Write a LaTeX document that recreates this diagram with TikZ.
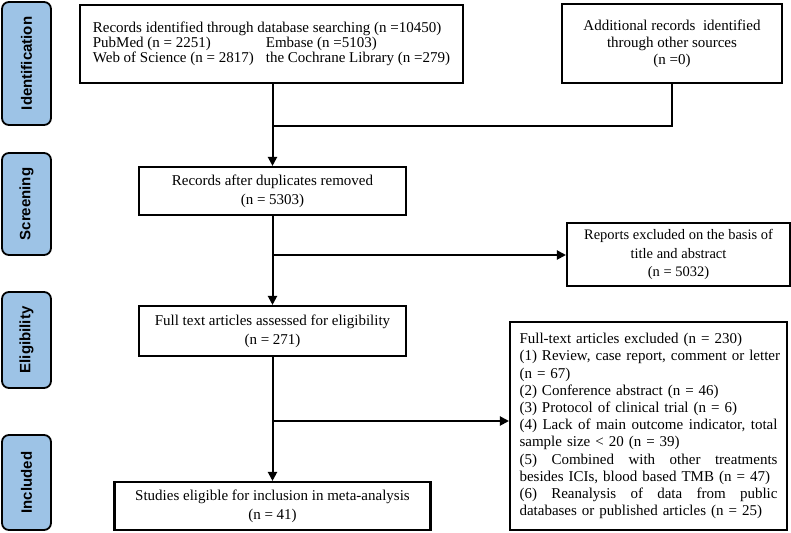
\documentclass[tikz,border=0pt]{standalone}
\usepackage{fontspec}
\setmainfont{Liberation Serif}
\newfontfamily\labfont{Liberation Sans}
\usetikzlibrary{arrows.meta}
\definecolor{stageblue}{RGB}{157,195,230}
\newcommand\rl[1]{\makebox[258pt][l]{#1}}
\newcommand\fl[1]{\makebox[258pt][s]{#1}}
\begin{document}
\begin{tikzpicture}[x=1pt,y=-1pt,
  box/.style={draw, line width=2.1pt, inner sep=0pt, align=center,
    font=\fontsize{15}{19}\selectfont},
  stage/.style={draw, fill=stageblue, rounded corners=7pt, line width=1.8pt,
    rotate=90, inner sep=0pt, minimum height=49pt,
    font=\labfont\bfseries\fontsize{15}{15}\selectfont},
  arr/.style={-{Triangle[length=9pt,width=9pt]}, line width=2pt},
  conn/.style={line width=2pt}]
\useasboundingbox (0,0) rectangle (791,532);

% stage labels
\node[stage, minimum width=123pt] (sid) at (26.5,63.5) {Identification};
\node[stage, minimum width=102pt] (ssc) at (26.5,204) {Screening};
\node[stage, minimum width=96pt] (sel) at (26.5,340) {Eligibility};
\node[stage, minimum width=95pt] (sin) at (26.5,482.5) {Included};

% boxes
\node[box, align=left, minimum width=383pt, minimum height=78pt,
  font=\fontsize{15}{15}\selectfont] (db) at (271.5,44)
  {Records identified through database searching (n =10450)\\
   \makebox[173pt][l]{PubMed (n = 2251)}Embase (n =5103)\\
   \makebox[173pt][l]{Web of Science (n = 2817)}the Cochrane Library (n =279)};
\node[box, minimum width=220pt, minimum height=79pt,
  font=\fontsize{15}{17}\selectfont] (add) at (672,43.5)
  {Additional records\ \ identified\\ through other sources\\ (n =0)};
\node[box, minimum width=267pt, minimum height=48pt] (dup) at (272.5,191)
  {Records after duplicates removed\\ (n = 5303)};
\node[box, minimum width=223pt, minimum height=63pt,
  font=\fontsize{14.5}{18.5}\selectfont] (rep) at (678.5,254.5)
  {Reports excluded on the basis of\\ title and abstract\\ (n = 5032)};
\node[box, minimum width=267pt, minimum height=50pt] (full) at (272.5,331)
  {Full text articles assessed for eligibility\\ (n = 271)};
\node[box, align=left, text width=258pt, inner xsep=9.5pt, minimum height=208pt,
  font=\fontsize{15}{17.2}\selectfont] (exc) at (648.5,426)
  {\rl{Full-text articles excluded (n = 230)}\\
   \fl{(1) \hfil Review, \hfil case \hfil report, \hfil comment \hfil or \hfil letter}\\
   \rl{(n = 67)}\\
   \rl{(2) Conference abstract (n = 46)}\\
   \rl{(3) Protocol of clinical trial (n = 6)}\\
   \fl{(4) \hfil Lack \hfil of \hfil main \hfil outcome \hfil indicator, \hfil total}\\
   \rl{sample size < 20 (n = 39)}\\
   \fl{(5) \hfil Combined \hfil with \hfil other \hfil treatments}\\
   \rl{besides ICIs, blood based TMB (n = 47)}\\
   \fl{(6) \hfil Reanalysis \hfil of \hfil data \hfil from \hfil public}\\
   \rl{databases or published articles (n = 25)}};
\node[box, minimum width=316pt, minimum height=48pt] (stu) at (272.5,506)
  {Studies eligible for inclusion in meta-analysis\\ (n = 41)};

% connectors
\coordinate (j1) at (272.5,126);
\coordinate (b1) at (272.5,255);
\coordinate (b2) at (272.5,421);
\draw[arr] (db.south -| dup.north) -- (dup.north);
\draw[conn] (add.south) -- (add.south |- j1) -- (j1);
\draw[arr] (dup.south) -- (full.north);
\draw[arr] (b1) -- (b1 -| rep.west);
\draw[arr] (full.south) -- (stu.north);
\draw[arr] (b2) -- (b2 -| exc.west);
\end{tikzpicture}
\end{document}
